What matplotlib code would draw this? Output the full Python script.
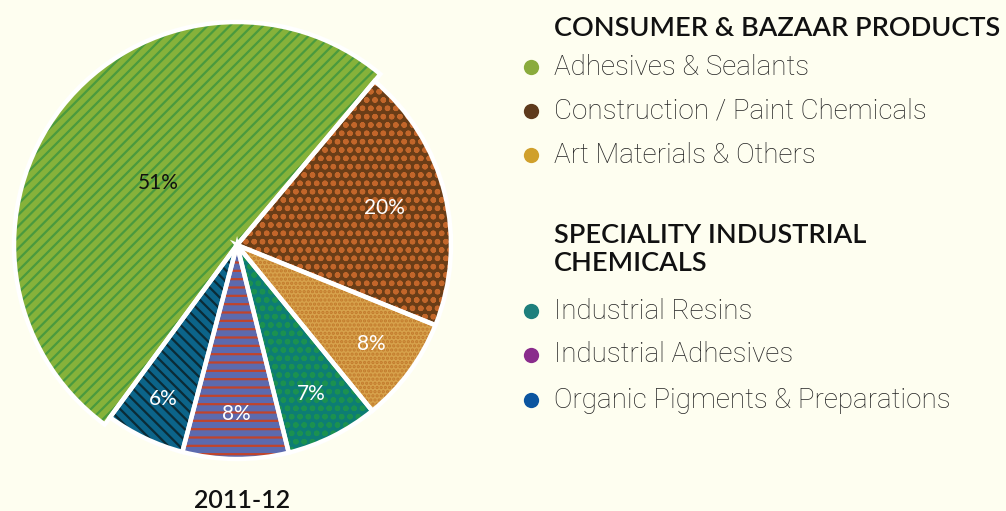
import matplotlib
matplotlib.use("Agg")
import matplotlib.pyplot as plt
import numpy as np

# ---- data ----
categories = ["Adhesives & Sealants", "Construction / Paint Chemicals", "Art Materials & Others",
              "Industrial Resins", "Industrial Adhesives", "Organic Pigments & Preparations"]
shares = [51, 20, 8, 7, 8, 6]
pct_labels = ["51%", "20%", "8%", "7%", "8%", "6%"]
group_titles = ["CONSUMER & BAZAAR PRODUCTS", "SPECIALITY INDUSTRIAL\nCHEMICALS"]
year_label = "2011-12"

# ---- styles ----
BG = "#fefef0"
base_colors = ["#86b23a", "#6a3d17", "#d7a24c", "#0d7d74", "#5c6aae", "#0c6489"]
hatch_colors = ["#4a9a3e", "#c2662a", "#c27a2c", "#1b9150", "#c0442c", "#0b2b36"]
hatches = ["///", "oo", "....", "oo", "--", "\\\\\\"]
bullet_colors = ["#8aab3c", "#5e3a1c", "#d0a02c", "#1e7f7c", "#8a2c8c", "#0b55a0"]
text_colors = ["#111111", "white", "white", "white", "white", "white"]
label_radius = [0.47, 0.71, 0.78, 0.78, 0.79, 0.80]
radius_boost = [9, 0, 0, 0, 0, 0]

plt.rcParams['hatch.linewidth'] = 1.6
fig = plt.figure(figsize=(10.06, 5.11), dpi=100, facecolor=BG)
ax = fig.add_axes([0, 0, 1, 1])
ax.set_xlim(0, 1006)
ax.set_ylim(0, 511)
ax.set_aspect("equal")
ax.axis("off")

cx, cy, R = 237, 511 - 245, 214
start = 233.6

common = dict(startangle=start, counterclock=False, center=(cx, cy), radius=R)
wedges, _ = ax.pie(shares, colors=base_colors, wedgeprops=dict(linewidth=0), **common)
w2, _ = ax.pie(shares, colors=["none"] * 6, wedgeprops=dict(linewidth=0), **common)
for w, h, hc in zip(w2, hatches, hatch_colors):
    w.set_hatch(h)
    w.set_edgecolor(hc)
    w.set_linewidth(0)
w3, _ = ax.pie(shares, colors=["none"] * 6,
               wedgeprops=dict(linewidth=3.2, edgecolor="white"), **common)
for layer in (wedges, w2, w3):
    for w, b in zip(layer, radius_boost):
        w.set_radius(R + b)
ax.set_xlim(0, 1006)
ax.set_ylim(0, 511)

for w, lab, rr, tc in zip(wedges, pct_labels, label_radius, text_colors):
    ang = np.deg2rad((w.theta1 + w.theta2) / 2)
    x = cx + rr * R * np.cos(ang)
    y = cy + rr * R * np.sin(ang)
    ax.text(x, y, lab, color=tc, fontsize=15, family="Lato", ha="center", va="center")

ax.text(242, 10, year_label, fontsize=18, family="Lato", weight="semibold",
        color="#111111", ha="center", va="center")

# legend
lx_b, lx_t = 531, 554
ax.text(lx_t, 511 - 28, group_titles[0], fontsize=19.5, family="Lato", weight="semibold",
        color="#111111", ha="left", va="center")
ax.text(lx_t, 511 - 249, group_titles[1], fontsize=19.5, family="Lato", weight="semibold",
        color="#111111", ha="left", va="center", linespacing=1.15)
item_y = [67, 111, 155, 311, 355, 400]
for yy, name, bc in zip(item_y, categories, bullet_colors):
    ax.plot(lx_b, 511 - yy, "o", ms=11, color=bc, mec="none")
    ax.text(lx_t, 511 - yy, name, fontsize=20, family="Roboto", weight="light",
            color="#222222", ha="left", va="center")

fig.savefig("out.png", dpi=100, facecolor=BG)
